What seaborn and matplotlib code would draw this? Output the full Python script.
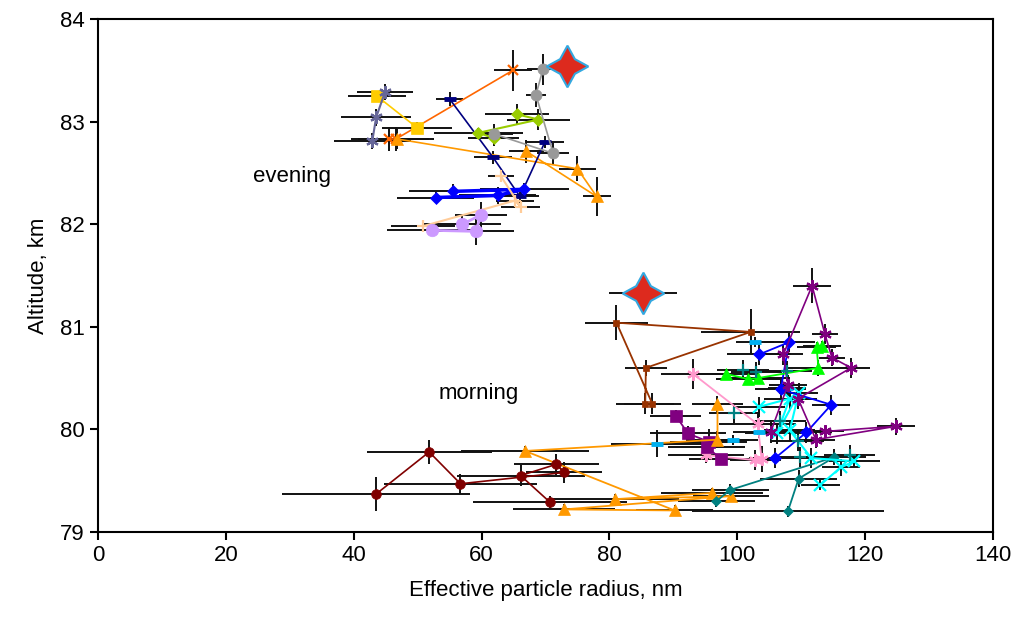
import numpy as np
import pandas as pd
import matplotlib
matplotlib.use("Agg")
import matplotlib.pyplot as plt
import seaborn as sns

# ---- evening series: radius (nm), altitude (km), errors ----
ev_orangered_x = [64.9, 46.6, 45.5]
ev_orangered_y = [83.50, 82.83, 82.83]
ev_orangered_xerr = [3.0, 6.0, 6.0]
ev_orangered_yerr = [0.20, 0.12, 0.12]

ev_gold_x = [43.6, 49.9]
ev_gold_y = [83.25, 82.94]
ev_gold_xerr = [4.5, 5.5]
ev_gold_yerr = [0.05, 0.06]

ev_slate_x = [44.9, 43.5, 42.9]
ev_slate_y = [83.29, 83.04, 82.81]
ev_slate_xerr = [4.4, 5.5, 6.0]
ev_slate_yerr = [0.08, 0.08, 0.08]

ev_orange_x = [46.8, 75.0, 78.0, 67.0]
ev_orange_y = [82.83, 82.54, 82.27, 82.71]
ev_orange_xerr = [5.0, 2.9, 2.2, 2.7]
ev_orange_yerr = [0.10, 0.12, 0.19, 0.11]

ev_navy_x = [55.0, 61.8, 66.0, 69.9]
ev_navy_y = [83.22, 82.65, 82.27, 82.80]
ev_navy_xerr = [2.1, 3.0, 3.0, 3.0]
ev_navy_yerr = [0.07, 0.06, 0.06, 0.06]

ev_blue_x = [52.8, 62.5, 66.7, 55.6]
ev_blue_y = [82.26, 82.28, 82.34, 82.32]
ev_blue_xerr = [6.0, 6.0, 7.0, 7.0]
ev_blue_yerr = [0.05, 0.08, 0.06, 0.07]

ev_tan_x = [63.0, 66.1, 65.2, 50.8]
ev_tan_y = [82.47, 82.17, 82.23, 81.98]
ev_tan_xerr = [2.0, 3.0, 3.0, 5.0]
ev_tan_yerr = [0.05, 0.05, 0.05, 0.05]

ev_lavender_x = [52.2, 59.1, 59.9, 57.0]
ev_lavender_y = [81.94, 81.93, 82.09, 82.00]
ev_lavender_xerr = [7.0, 6.0, 4.0, 6.0]
ev_lavender_yerr = [0.06, 0.13, 0.13, 0.08]

ev_lime_x = [61.9, 59.5, 68.9, 65.6]
ev_lime_y = [82.84, 82.89, 83.02, 83.07]
ev_lime_xerr = [4.0, 7.0, 5.0, 5.0]
ev_lime_yerr = [0.08, 0.05, 0.10, 0.10]

ev_gray_x = [69.6, 68.5, 71.2, 61.9]
ev_gray_y = [83.51, 83.26, 82.69, 82.88]
ev_gray_xerr = [2.5, 1.5, 2.5, 3.0]
ev_gray_yerr = [0.15, 0.12, 0.10, 0.10]

# ---- morning series ----
mo_brown_x = [86.7, 81.1, 102.1, 85.7, 85.6]
mo_brown_y = [80.25, 81.04, 80.95, 80.60, 80.25]
mo_brown_xerr = [4.5, 4.9, 7.7, 3.3, 4.5]
mo_brown_yerr = [0.10, 0.17, 0.22, 0.08, 0.10]

mo_pink_x = [93.1, 103.2, 103.8, 102.8, 95.1]
mo_pink_y = [80.54, 80.05, 79.71, 79.70, 79.75]
mo_pink_xerr = [5.0, 6.0, 3.0, 4.0, 6.0]
mo_pink_yerr = [0.15, 0.10, 0.13, 0.10, 0.08]

mo_purple_sq_x = [90.4, 92.3, 95.5, 95.2, 97.5]
mo_purple_sq_y = [80.13, 79.96, 79.88, 79.83, 79.71]
mo_purple_sq_xerr = [4.0, 6.0, 6.0, 6.0, 5.0]
mo_purple_sq_yerr = [0.06, 0.07, 0.12, 0.10, 0.05]

mo_orange_x = [96.9, 96.9, 66.8, 90.2, 72.9, 99.0, 80.9, 96.0]
mo_orange_y = [80.25, 79.90, 79.79, 79.21, 79.22, 79.35, 79.32, 79.38]
mo_orange_xerr = [4.0, 5.0, 10.0, 6.0, 8.0, 6.0, 10.0, 8.0]
mo_orange_yerr = [0.08, 0.08, 0.05, 0.05, 0.05, 0.06, 0.05, 0.05]

mo_darkred_x = [43.5, 51.8, 56.7, 72.9, 71.7, 66.1, 70.7]
mo_darkred_y = [79.37, 79.78, 79.47, 79.58, 79.66, 79.55, 79.29]
mo_darkred_xerr = [14.7, 9.8, 12.0, 6.0, 6.6, 10.0, 12.0]
mo_darkred_yerr = [0.17, 0.12, 0.10, 0.10, 0.10, 0.10, 0.06]

mo_teal_x = [107.9, 109.6, 115.2, 98.9, 96.7]
mo_teal_y = [79.20, 79.52, 79.73, 79.41, 79.30]
mo_teal_xerr = [15.0, 6.0, 5.0, 6.0, 6.0]
mo_teal_yerr = [0.05, 0.08, 0.08, 0.06, 0.06]

mo_cyan_x = [103.4, 108.2, 106.2, 109.6, 108.2, 111.6, 118.3, 116.2, 113.0]
mo_cyan_y = [80.22, 80.30, 79.96, 80.35, 79.99, 79.72, 79.69, 79.63, 79.46]
mo_cyan_xerr = [4.0, 4.0, 5.0, 3.0, 4.0, 4.0, 4.0, 3.0, 3.0]
mo_cyan_yerr = [0.10, 0.10, 0.10, 0.10, 0.10, 0.10, 0.06, 0.08, 0.05]

mo_sky_x = [102.8, 107.8, 103.4, 99.3, 87.5]
mo_sky_y = [80.85, 80.40, 79.97, 79.90, 79.86]
mo_sky_xerr = [3.0, 3.0, 4.0, 4.0, 7.3]
mo_sky_yerr = [0.05, 0.05, 0.05, 0.05, 0.13]

mo_blue_x = [103.4, 108.1, 106.8, 114.7, 110.8, 105.9]
mo_blue_y = [80.73, 80.85, 80.39, 80.24, 79.97, 79.72]
mo_blue_xerr = [5.0, 4.0, 4.0, 3.0, 4.0, 4.0]
mo_blue_yerr = [0.10, 0.10, 0.10, 0.10, 0.10, 0.10]

mo_green_x = [98.3, 101.7, 103.2, 112.7, 112.4, 113.2]
mo_green_y = [80.54, 80.49, 80.50, 80.60, 80.80, 80.81]
mo_green_xerr = [5.0, 5.0, 5.0, 5.0, 3.0, 3.0]
mo_green_yerr = [0.05, 0.05, 0.05, 0.08, 0.05, 0.05]

mo_purple_ast_x = [105.2, 107.9, 107.2, 111.7, 113.7, 114.8, 117.8, 109.5, 112.3, 124.8, 113.7]
mo_purple_ast_y = [79.97, 80.43, 80.73, 81.40, 80.93, 80.70, 80.60, 80.30, 79.90, 80.03, 79.98]
mo_purple_ast_xerr = [3.0, 3.0, 3.0, 3.0, 2.0, 2.0, 3.0, 3.0, 3.0, 3.0, 3.0]
mo_purple_ast_yerr = [0.10, 0.10, 0.10, 0.17, 0.10, 0.08, 0.10, 0.10, 0.08, 0.08, 0.05]

mo_tealplus_x = [100.9, 103.0, 107.7, 99.5, 106.7, 109.5, 109.8, 117.6]
mo_tealplus_y = [80.58, 80.56, 80.57, 80.16, 80.08, 79.89, 79.73, 79.75]
mo_tealplus_xerr = [4.0, 4.0, 4.0, 4.0, 4.0, 4.0, 4.0, 4.0]
mo_tealplus_yerr = [0.10, 0.10, 0.10, 0.10, 0.10, 0.10, 0.10, 0.10]

# mean values (stars)
star_x = [73.4, 85.25]
star_y = [83.54, 81.33]
star_xerr = [0.0, 5.3]

series = [
    # name, x, y, xerr, yerr
    ("ev_orangered", ev_orangered_x, ev_orangered_y, ev_orangered_xerr, ev_orangered_yerr),
    ("ev_gold", ev_gold_x, ev_gold_y, ev_gold_xerr, ev_gold_yerr),
    ("ev_slate", ev_slate_x, ev_slate_y, ev_slate_xerr, ev_slate_yerr),
    ("ev_orange", ev_orange_x, ev_orange_y, ev_orange_xerr, ev_orange_yerr),
    ("ev_navy", ev_navy_x, ev_navy_y, ev_navy_xerr, ev_navy_yerr),
    ("ev_blue", ev_blue_x, ev_blue_y, ev_blue_xerr, ev_blue_yerr),
    ("ev_tan", ev_tan_x, ev_tan_y, ev_tan_xerr, ev_tan_yerr),
    ("ev_lavender", ev_lavender_x, ev_lavender_y, ev_lavender_xerr, ev_lavender_yerr),
    ("ev_lime", ev_lime_x, ev_lime_y, ev_lime_xerr, ev_lime_yerr),
    ("ev_gray", ev_gray_x, ev_gray_y, ev_gray_xerr, ev_gray_yerr),
    ("mo_brown", mo_brown_x, mo_brown_y, mo_brown_xerr, mo_brown_yerr),
    ("mo_pink", mo_pink_x, mo_pink_y, mo_pink_xerr, mo_pink_yerr),
    ("mo_purple_sq", mo_purple_sq_x, mo_purple_sq_y, mo_purple_sq_xerr, mo_purple_sq_yerr),
    ("mo_orange", mo_orange_x, mo_orange_y, mo_orange_xerr, mo_orange_yerr),
    ("mo_darkred", mo_darkred_x, mo_darkred_y, mo_darkred_xerr, mo_darkred_yerr),
    ("mo_teal", mo_teal_x, mo_teal_y, mo_teal_xerr, mo_teal_yerr),
    ("mo_cyan", mo_cyan_x, mo_cyan_y, mo_cyan_xerr, mo_cyan_yerr),
    ("mo_sky", mo_sky_x, mo_sky_y, mo_sky_xerr, mo_sky_yerr),
    ("mo_blue", mo_blue_x, mo_blue_y, mo_blue_xerr, mo_blue_yerr),
    ("mo_green", mo_green_x, mo_green_y, mo_green_xerr, mo_green_yerr),
    ("mo_purple_ast", mo_purple_ast_x, mo_purple_ast_y, mo_purple_ast_xerr, mo_purple_ast_yerr),
    ("mo_tealplus", mo_tealplus_x, mo_tealplus_y, mo_tealplus_xerr, mo_tealplus_yerr),
]

ASTER = (6, 2, 0)
# color, marker, markersize, linewidth (0 = no line)
styles = {
    "ev_orangered": ("#FF6600", "x", 7, 1.2),
    "ev_gold": ("#FFCC00", "s", 9, 1.2),
    "ev_slate": ("#666699", ASTER, 9, 1.5),
    "ev_orange": ("#FF9900", "^", 8, 1.2),
    "ev_navy": ("#000080", "_", 8, 1.2),
    "ev_blue": ("#0000FF", "D", 6, 2.5),
    "ev_tan": ("#FFCC99", "+", 9, 1.5),
    "ev_lavender": ("#CC99FF", "o", 9, 2.0),
    "ev_lime": ("#99CC00", "D", 6, 1.5),
    "ev_gray": ("#999999", "o", 8, 1.2),
    "mo_brown": ("#993300", "s", 5, 1.3),
    "mo_pink": ("#FF99CC", ASTER, 9, 1.3),
    "mo_purple_sq": ("#800080", "s", 8, 1.3),
    "mo_orange": ("#FF9900", "^", 8, 1.3),
    "mo_darkred": ("#800000", "o", 7, 1.2),
    "mo_teal": ("#008080", "D", 5, 1.3),
    "mo_cyan": ("#00FFFF", "x", 8, 1.5),
    "mo_sky": ("#00B0F0", "_", 8, 0),
    "mo_blue": ("#0000FF", "D", 6, 1.3),
    "mo_green": ("#00FF00", "^", 9, 1.3),
    "mo_purple_ast": ("#800080", ASTER, 9, 1.2),
    "mo_tealplus": ("#008080", "+", 8, 0),
}

sns.set_style("ticks")
plt.rcParams['font.family'] = ['Liberation Sans', 'DejaVu Sans']
plt.rcParams['text.color'] = 'black'
plt.rcParams['axes.labelcolor'] = 'black'
plt.rcParams['xtick.color'] = 'black'
plt.rcParams['ytick.color'] = 'black'

fig = plt.figure(figsize=(10.17, 6.22), dpi=100)
ax = fig.add_axes([0.0964, 0.1447, 0.8800, 0.8248])


def edge_width(marker):
    if marker == "_":
        return 3.5
    if marker in ("x", "+", ASTER):
        return 1.6
    return 0.5


# error bars first
for name, xs, ys, xe, ye in series:
    ax.errorbar(xs, ys, xerr=xe, yerr=ye, fmt='none', ecolor='#111111',
                elinewidth=1.4, capsize=0, zorder=2)

# connected points
for name, xs, ys, xe, ye in series:
    color, marker, ms, lw = styles[name]
    df = pd.DataFrame({"radius": xs, "alt": ys})
    if lw > 0:
        sns.lineplot(data=df, x="radius", y="alt", sort=False, estimator=None,
                     color=color, linewidth=lw, marker=marker, markersize=ms,
                     markeredgecolor=color, markeredgewidth=edge_width(marker),
                     ax=ax, zorder=3)
    else:
        ax.plot(xs, ys, linestyle='none', color=color, marker=marker, markersize=ms,
                markeredgecolor=color, markeredgewidth=edge_width(marker), zorder=3)

# mean stars
ax.errorbar(star_x, star_y, xerr=star_xerr, fmt='none', ecolor='#111111',
            elinewidth=1.4, capsize=0, zorder=2)
ax.plot(star_x, star_y, linestyle='none', marker=(4, 1, 0), markersize=30,
        markerfacecolor='#DD2A1E', markeredgecolor='#33A8E0', markeredgewidth=1.5, zorder=4)

ax.text(30.3, 82.46, "evening", fontsize=16, ha='center', va='center')
ax.text(59.6, 80.35, "morning", fontsize=16, ha='center', va='center')

ax.set_xlim(0, 140)
ax.set_ylim(79, 84)
ax.set_xticks(range(0, 141, 20))
ax.set_yticks(range(79, 85))
ax.tick_params(direction='out', length=6, width=1.5, labelsize=16, top=False, right=False)
for sp in ax.spines.values():
    sp.set_linewidth(1.5)
    sp.set_color('black')
    sp.set_visible(True)
ax.set_xlabel("Effective particle radius, nm", fontsize=16, labelpad=10)
ax.set_ylabel("Altitude, km", fontsize=16, labelpad=8)

fig.savefig("out.png", dpi=100)
